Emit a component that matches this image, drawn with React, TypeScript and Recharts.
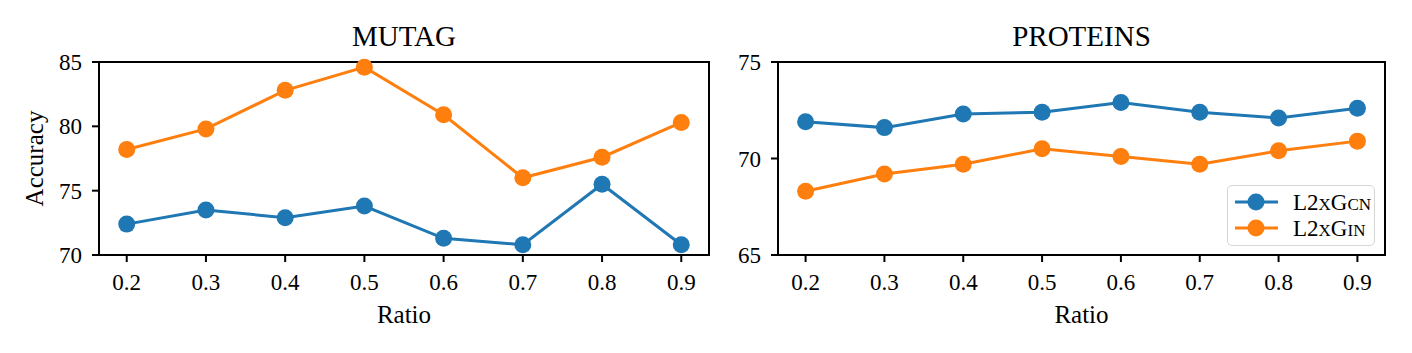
import React from 'react';
import { LineChart, Line, XAxis, YAxis, Legend, Label, ReferenceArea } from 'recharts';

const ratios = [0.2, 0.3, 0.4, 0.5, 0.6, 0.7, 0.8, 0.9];
const mutagGcn = [72.4, 73.5, 72.9, 73.8, 71.3, 70.8, 75.5, 70.8];
const mutagGin = [78.2, 79.8, 82.8, 84.6, 80.9, 76.0, 77.6, 80.3];
const proteinsGcn = [71.9, 71.6, 72.3, 72.4, 72.9, 72.4, 72.1, 72.6];
const proteinsGin = [68.3, 69.2, 69.7, 70.5, 70.1, 69.7, 70.4, 70.9];
const mutagTicks = [70, 75, 80, 85];
const proteinsTicks = [65, 70, 75];
const xDomain: [number, number] = [0.165, 0.935];

const BLUE = '#1f77b4';
const ORANGE = '#ff7f0e';
const FONT = "'Liberation Serif', 'DejaVu Serif', serif";

const mutagData = ratios.map((r, i) => ({ ratio: r, gcn: mutagGcn[i], gin: mutagGin[i] }));
const proteinsData = ratios.map((r, i) => ({ ratio: r, gcn: proteinsGcn[i], gin: proteinsGin[i] }));

const tickStyle = { fill: '#000', fontSize: 23, fontFamily: FONT };
const lineStyle = { stroke: '#000', strokeWidth: 2 };

const YLabel = (props: any) => {
  const vb = props.viewBox;
  const cx = vb.x + 4;
  const cy = vb.y + vb.height / 2;
  return (
    <text x={cx} y={cy} transform={`rotate(-90, ${cx}, ${cy})`} textAnchor="middle" fill="#000" fontSize={25} fontFamily={FONT}>
      Accuracy
    </text>
  );
};

const LegendBox = () => {
  const rows = [
    { color: BLUE, sc: 'CN' },
    { color: ORANGE, sc: 'IN' },
  ];
  return (
    <div style={{ boxSizing: 'border-box', width: 148, height: 61, border: '1.5px solid #d6d6d6', borderRadius: 5, background: 'rgba(255,255,255,0.85)', paddingTop: 3, fontFamily: FONT, fontSize: 23, color: '#000' }}>
      {rows.map((row) => (
        <div key={row.sc} style={{ display: 'flex', alignItems: 'center', height: 26 }}>
          <svg width={50} height={22} style={{ marginLeft: 6, flexShrink: 0 }}>
            <line x1={1} y1={11} x2={44} y2={11} stroke={row.color} strokeWidth={3} />
            <circle cx={22} cy={11} r={8.5} fill={row.color} />
          </svg>
          <span style={{ marginLeft: 9, lineHeight: 1, whiteSpace: 'nowrap' }}>
            L2<span style={{ fontSize: 17 }}>X</span>G<span style={{ fontSize: 17 }}>{row.sc}</span>
          </span>
        </div>
      ))}
    </div>
  );
};

interface PanelProps {
  data: Array<Record<string, number>>;
  title: string;
  yDomain: [number, number];
  yTicks: number[];
  width: number;
  marginLeft: number;
  marginRight: number;
  showYLabel?: boolean;
  showLegend?: boolean;
}

const Panel: React.FC<PanelProps> = ({ data, title, yDomain, yTicks, width, marginLeft, marginRight, showYLabel, showLegend }) => (
  <LineChart width={width} height={353} data={data} margin={{ top: 62, right: marginRight, left: marginLeft, bottom: 48 }}>
    <XAxis
      dataKey="ratio"
      type="number"
      domain={xDomain}
      ticks={ratios}
      tickFormatter={(v: number) => v.toFixed(1)}
      tick={tickStyle}
      tickSize={7}
      tickMargin={12}
      tickLine={lineStyle}
      axisLine={lineStyle}
      height={50}
    >
      <Label value="Ratio" position="bottom" offset={0} fill="#000" fontSize={25} fontFamily={FONT} />
    </XAxis>
    <YAxis
      domain={yDomain}
      ticks={yTicks}
      tick={tickStyle}
      tickSize={7}
      tickMargin={10}
      tickLine={lineStyle}
      axisLine={lineStyle}
      width={60}
    >
      {showYLabel && <Label content={<YLabel />} />}
    </YAxis>
    <ReferenceArea x1={xDomain[0]} x2={xDomain[1]} y1={yDomain[0]} y2={yDomain[1]} fill="none" stroke="#000" strokeWidth={2} fillOpacity={0}>
      <Label value={title} position="top" offset={16} fill="#000" fontSize={29} fontFamily={FONT} />
    </ReferenceArea>
    {showLegend && (
      <Legend
        layout="vertical"
        align="center"
        verticalAlign="middle"
        content={<LegendBox />}
        wrapperStyle={{ left: 521, top: 185, width: 148, height: 61 }}
      />
    )}
    <Line dataKey="gcn" name="L2xGcn" stroke={BLUE} strokeWidth={3} dot={{ r: 8.5, fill: BLUE, stroke: BLUE, strokeWidth: 0 }} activeDot={false} isAnimationActive={false} />
    <Line dataKey="gin" name="L2xGin" stroke={ORANGE} strokeWidth={3} dot={{ r: 8.5, fill: ORANGE, stroke: ORANGE, strokeWidth: 0 }} activeDot={false} isAnimationActive={false} />
  </LineChart>
);

export default function App() {
  return (
    <div style={{ position: 'fixed', left: 0, top: 0, width: 1412, height: 353, background: '#fff', fontFamily: FONT }}>
      <div style={{ position: 'absolute', left: 0, top: 0 }}>
        <Panel data={mutagData} title="MUTAG" yDomain={[70, 85]} yTicks={mutagTicks} width={720} marginLeft={39} marginRight={11} showYLabel />
      </div>
      <div style={{ position: 'absolute', left: 706, top: 0 }}>
        <Panel data={proteinsData} title="PROTEINS" yDomain={[65, 75]} yTicks={proteinsTicks} width={706} marginLeft={12} marginRight={27} showLegend />
      </div>
    </div>
  );
}
